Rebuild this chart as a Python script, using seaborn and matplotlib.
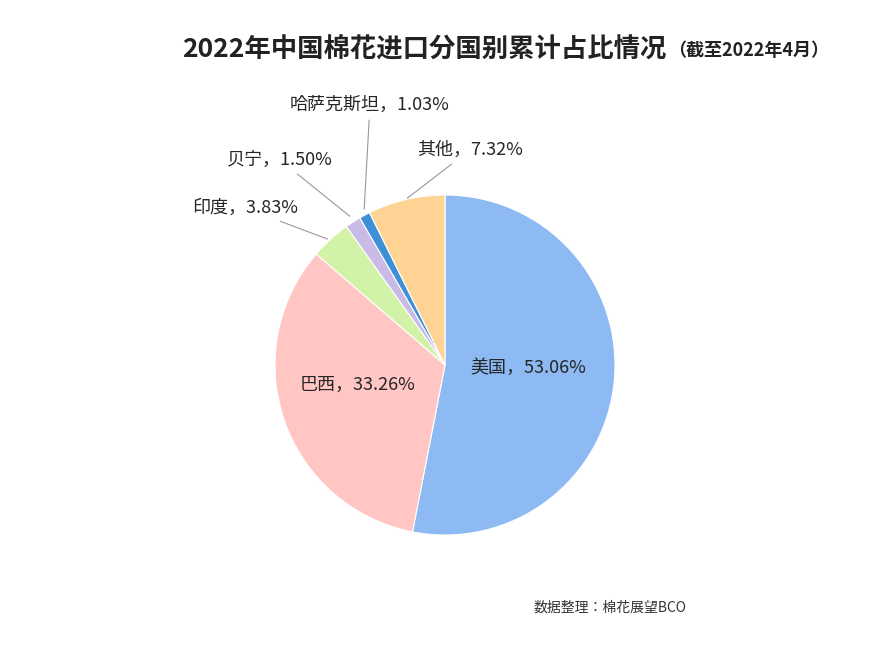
import matplotlib
matplotlib.use("Agg")
import matplotlib.pyplot as plt
from matplotlib import font_manager
import seaborn as sns

sns.set_style("white")
cjk = [f.name for f in font_manager.fontManager.ttflist if "CJK" in f.name]
sans = [n for n in cjk if "Sans" in n]
fam = "Noto Sans CJK SC" if "Noto Sans CJK SC" in cjk else (sans[0] if sans else (cjk[0] if cjk else "DejaVu Sans"))
plt.rcParams["font.family"] = "sans-serif"
plt.rcParams["font.sans-serif"] = [fam, "DejaVu Sans"]

countries = ["美国", "巴西", "印度", "贝宁", "哈萨克斯坦", "其他"]
shares = [53.06, 33.26, 3.83, 1.50, 1.03, 7.32]
colors = ["#8dbaf2", "#ffc6c4", "#d2f2a8", "#c9bbe6", "#3d8fd6", "#ffd394"]

fig = plt.figure(figsize=(8.96, 6.56), dpi=100)
ax = fig.add_axes([275 / 896, 121 / 656, 340 / 896, 340 / 656])

ax.pie(shares, colors=colors, startangle=90, counterclock=False, radius=1,
       wedgeprops=dict(linewidth=0.8, edgecolor="white"))
ax.set_xlim(-1, 1)
ax.set_ylim(-1, 1)
ax.set_aspect("equal")


def pt(px, py):
    return ((px - 445) / 170, (365 - py) / 170)


labels = [f"{c}，{s:.2f}%" for c, s in zip(countries, shares)]
# inside labels
ax.text(*pt(528, 368), labels[0], ha="center", va="center", fontsize=13)
ax.text(*pt(358, 385), labels[1], ha="center", va="center", fontsize=13)
# outside labels with leader lines
line = dict(arrowstyle="-", color="#999999", lw=0.8)
ax.annotate(labels[2], xy=pt(330, 240), xytext=pt(245, 208), ha="center",
            va="center", fontsize=13, arrowprops=line, annotation_clip=False)
ax.annotate(labels[3], xy=pt(352, 218), xytext=pt(280, 160), ha="center",
            va="center", fontsize=13, arrowprops=line, annotation_clip=False)
ax.annotate(labels[4], xy=pt(364, 212), xytext=pt(370, 105), ha="center",
            va="center", fontsize=13, arrowprops=line, annotation_clip=False)
ax.annotate(labels[5], xy=pt(405, 200), xytext=pt(470, 150), ha="center",
            va="center", fontsize=13, arrowprops=line, annotation_clip=False)

fig.text(666 / 896, 1 - 50 / 656, "2022年中国棉花进口分国别累计占比情况", ha="right",
         va="center", fontsize=19, fontweight="bold", color="#222222")
fig.text(668 / 896, 1 - 50 / 656, "（截至2022年4月）", ha="left", va="center",
         fontsize=13, fontweight="bold", color="#222222")
fig.text(610 / 896, 1 - 608 / 656, "数据整理：棉花展望BCO", ha="center",
         va="center", fontsize=10, color="#333333")

fig.savefig("out.png", dpi=100)
